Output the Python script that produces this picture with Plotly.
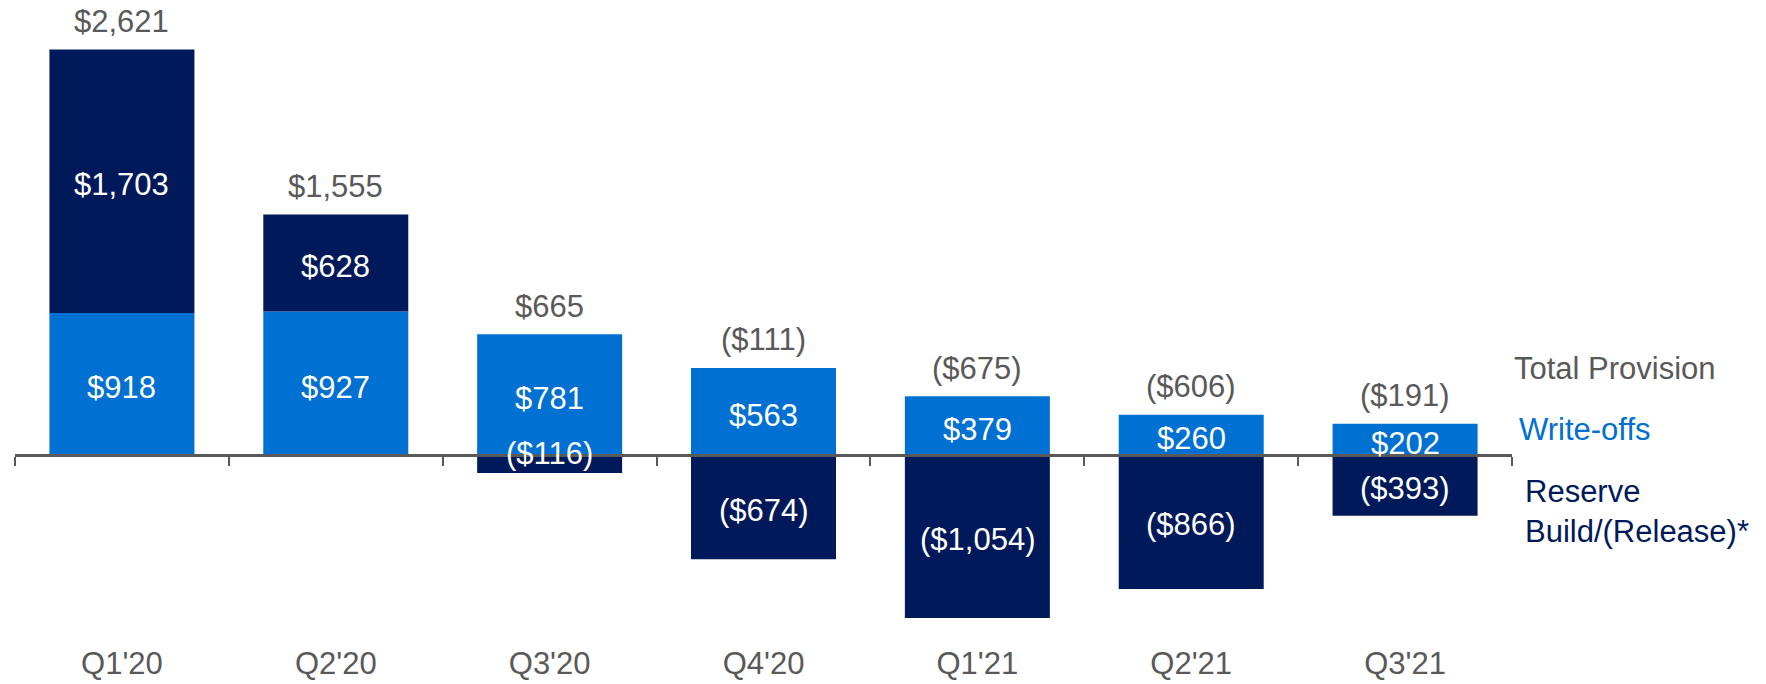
import plotly.graph_objects as go

quarters = ["Q1'20", "Q2'20", "Q3'20", "Q4'20", "Q1'21", "Q2'21", "Q3'21"]
write_offs = [918, 927, 781, 563, 379, 260, 202]
reserve = [1703, 628, -116, -674, -1054, -866, -393]
total = [2621, 1555, 665, -111, -675, -606, -191]

NAVY = "#00195A"
BLUE = "#0070D2"
GRAY = "#595959"
FONT = "Liberation Sans, Arial, sans-serif"
FS = 31

W, H = 1766, 684
ML, MR = 15, 254
ZERO_PX = 455
PX_PER_UNIT = 0.1547
YMAX = ZERO_PX / PX_PER_UNIT
YMIN = -(H - ZERO_PX) / PX_PER_UNIT
ZERO_FRAC = -YMIN / (YMAX - YMIN)


def fmt(v):
    s = "${:,.0f}".format(abs(v))
    return "(" + s + ")" if v < 0 else s


fig = go.Figure()
fig.add_trace(go.Bar(x=quarters, y=write_offs, marker=dict(color=BLUE, line=dict(width=0)),
                     name="Write-offs", hoverinfo="skip"))
fig.add_trace(go.Bar(x=quarters, y=reserve, marker=dict(color=NAVY, line=dict(width=0)),
                     name="Reserve Build/(Release)*", hoverinfo="skip"))

ann = []
text_h_units = 36 / PX_PER_UNIT
for q, wo, rs, tot in zip(quarters, write_offs, reserve, total):
    top = wo + max(rs, 0)
    ann.append(dict(x=q, y=top, text=fmt(tot), showarrow=False, yanchor="middle",
                    yshift=28, font=dict(color=GRAY, size=FS, family=FONT)))
    ann.append(dict(x=q, y=wo / 2, text=fmt(wo), showarrow=False, yanchor="middle",
                    yshift=-4, font=dict(color="white", size=FS, family=FONT)))
    if rs >= 0:
        ry, rshift = wo + rs / 2, -3
    elif abs(rs) < text_h_units:
        ry, rshift = 0, 2
    else:
        ry, rshift = rs / 2, -3
    ann.append(dict(x=q, y=ry, text=fmt(rs), showarrow=False, yanchor="middle",
                    yshift=rshift, font=dict(color="white", size=FS, family=FONT)))

ann.append(dict(xref="paper", yref="paper", x=1.0, y=(H - 368) / H, xanchor="left",
                yanchor="middle", text="Total Provision", showarrow=False, align="left",
                font=dict(color=GRAY, size=FS, family=FONT)))
ann.append(dict(xref="paper", yref="paper", x=1.0, xshift=5, y=(H - 429) / H, xanchor="left",
                yanchor="middle", text="Write-offs", showarrow=False, align="left",
                font=dict(color=BLUE, size=FS, family=FONT)))
ann.append(dict(xref="paper", yref="paper", x=1.0, xshift=11, y=(H - 511.5) / H, xanchor="left",
                yanchor="middle", text="Reserve<br>Build/(Release)*", showarrow=False, align="left",
                font=dict(color=NAVY, size=FS, family=FONT)))

fig.update_layout(
    width=W, height=H,
    margin=dict(l=ML, r=MR, t=0, b=0),
    barmode="relative",
    bargap=0.322,
    showlegend=False,
    plot_bgcolor="white",
    paper_bgcolor="white",
    annotations=ann,
    font=dict(family=FONT, size=FS, color=GRAY),
)
fig.update_xaxes(
    anchor="free", position=ZERO_FRAC, automargin=False,
    showline=True, linecolor=GRAY, linewidth=3,
    ticks="outside", tickson="boundaries", ticklen=9, tickwidth=2, tickcolor=GRAY,
    ticklabelstandoff=180,
    tickfont=dict(size=FS, color=GRAY, family=FONT),
    showgrid=False, zeroline=False,
)
fig.update_yaxes(range=[YMIN, YMAX], visible=False, showgrid=False, zeroline=False,
                 automargin=False)

fig.write_html("out.html",
               config={"displayModeBar": False},
               post_script="document.body.style.margin='0';document.body.style.overflow='hidden';")
